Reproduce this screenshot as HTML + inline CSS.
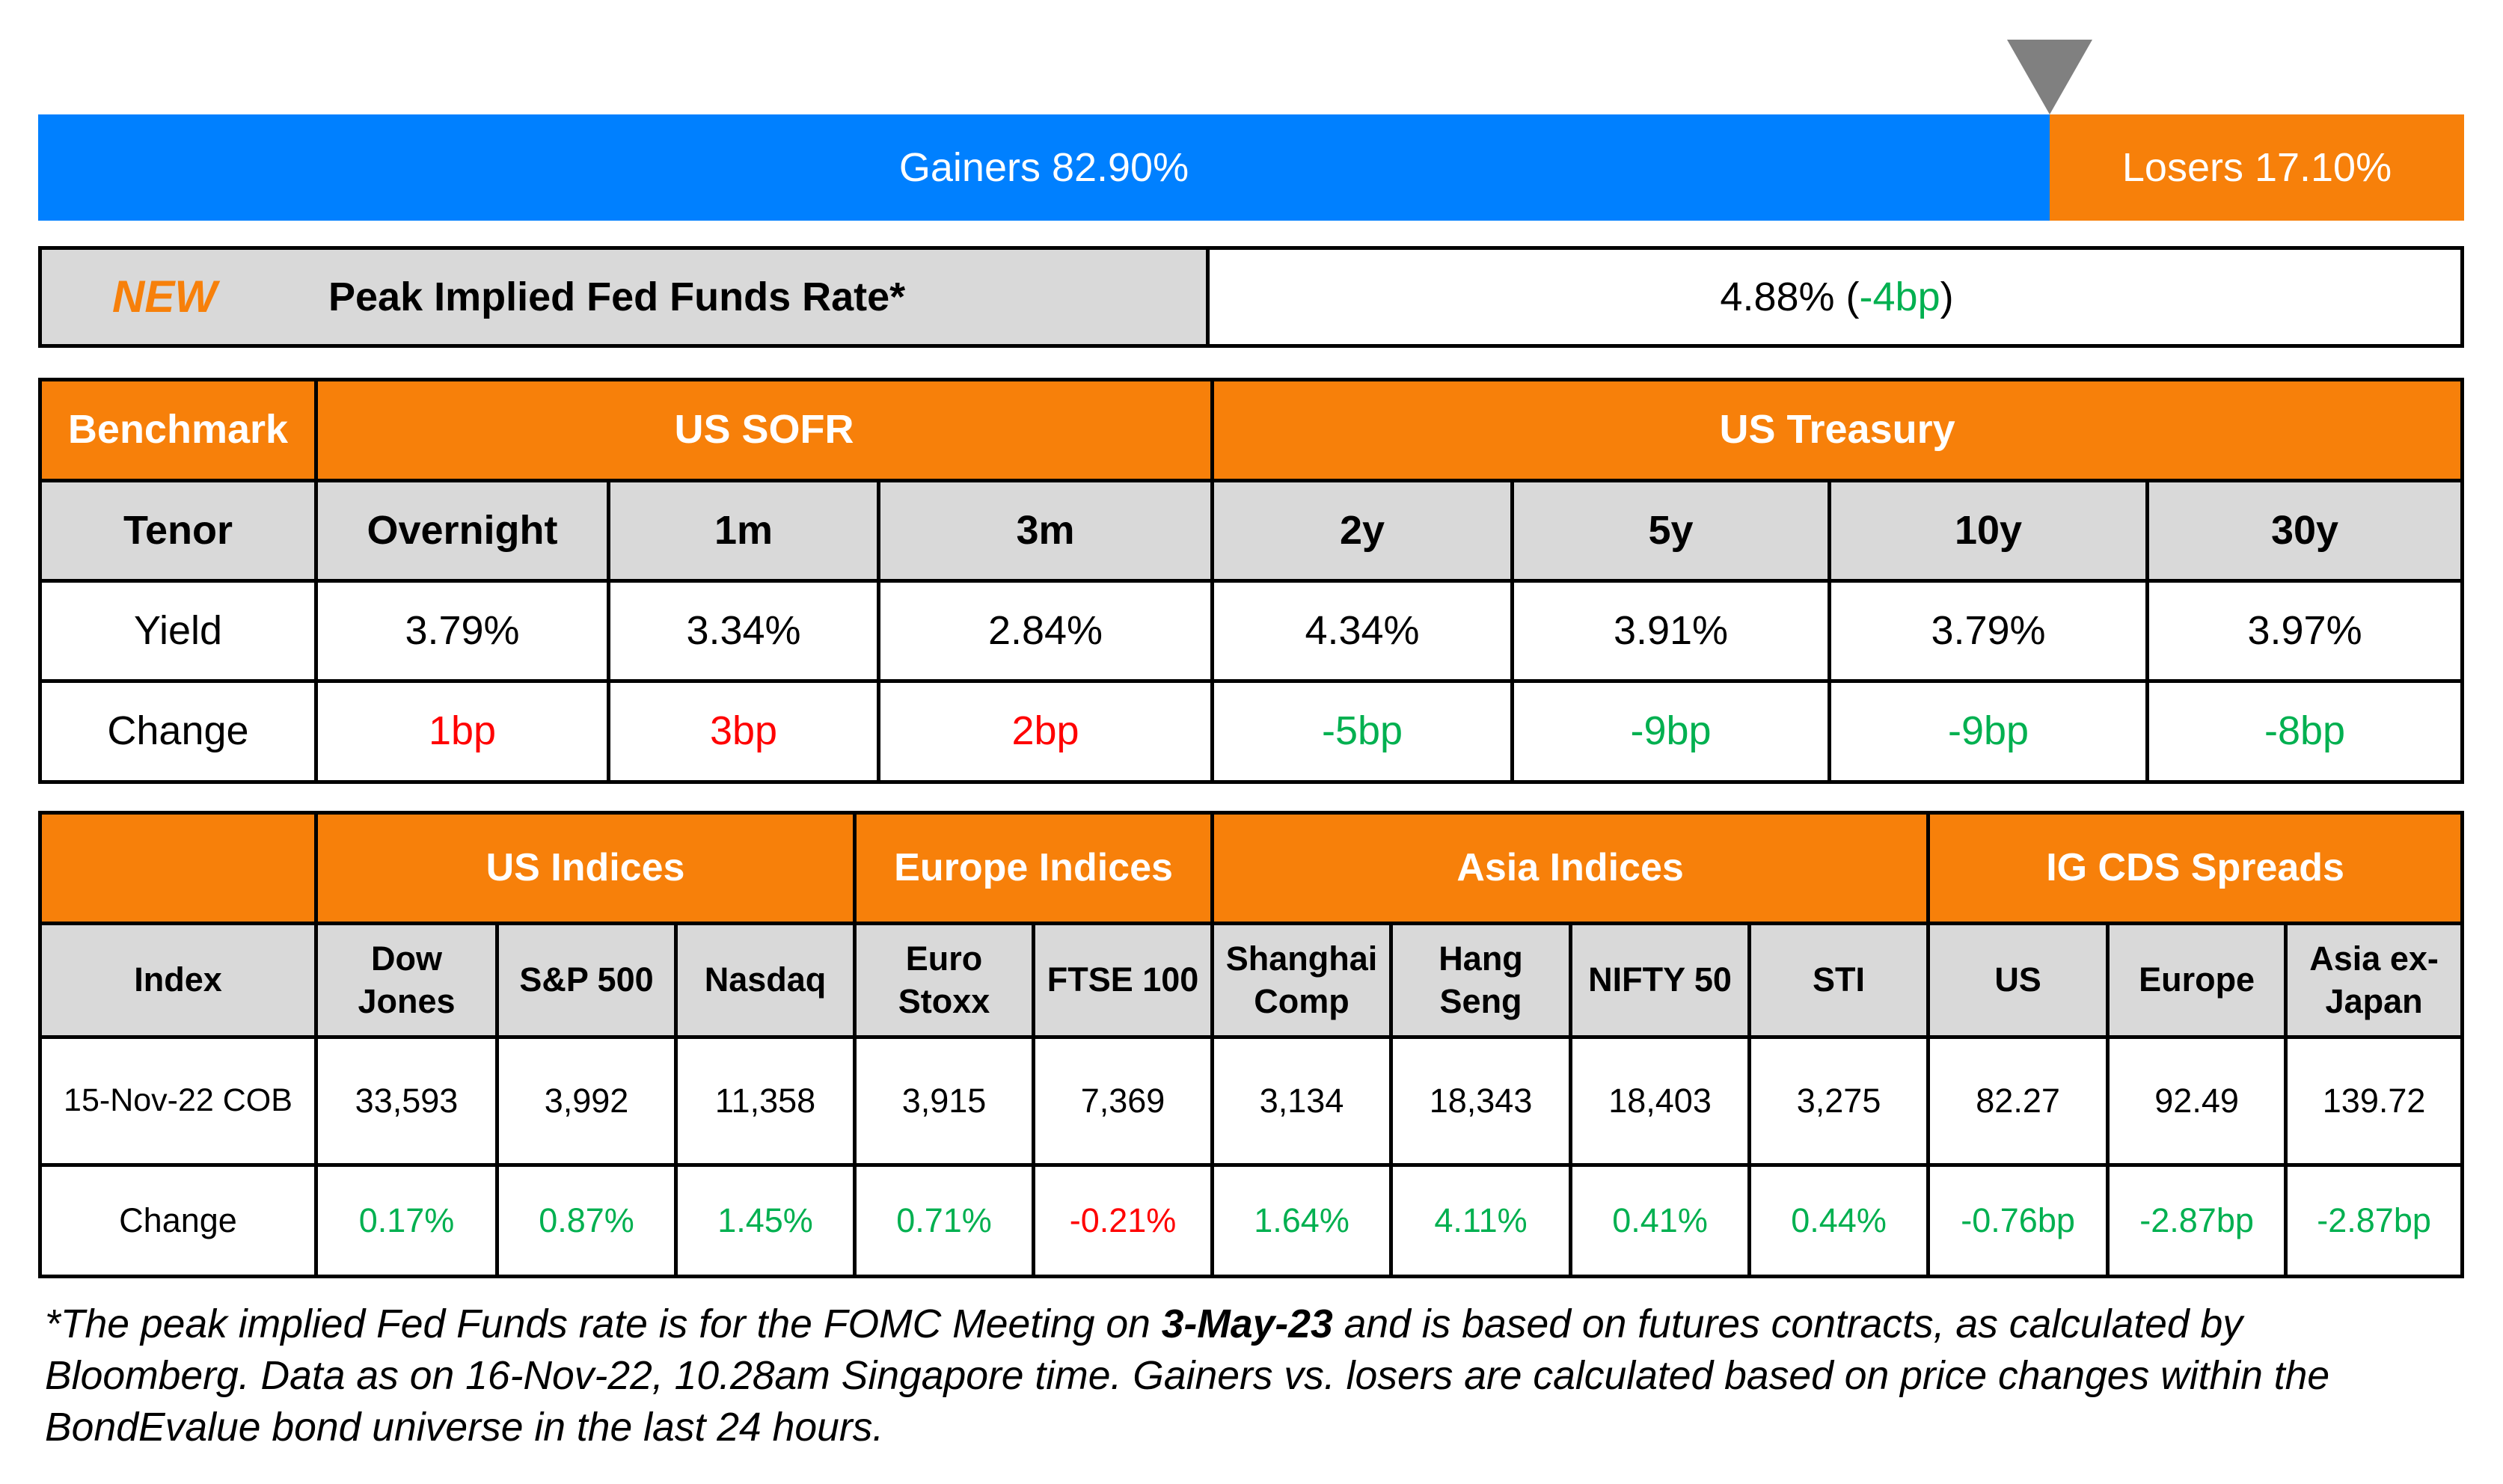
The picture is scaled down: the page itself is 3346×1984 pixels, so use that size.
<!DOCTYPE html>
<html><head><meta charset="utf-8"><style>
*{margin:0;padding:0;box-sizing:border-box}
body{width:3346px;height:1984px;background:#fff;position:relative;overflow:hidden;font-family:"Liberation Sans",sans-serif;color:#000}
.abs{position:absolute}
table{position:absolute;border-collapse:collapse;table-layout:fixed}
td{border:5px solid #000;text-align:center;vertical-align:middle;line-height:1.25}
.or{background:#F7800A;color:#fff;font-weight:bold}
.gr{background:#D9D9D9;font-weight:bold}
.g{color:#00B050}.r{color:#FF0000}
#t1 td{font-size:54px}
#t2 td{font-size:45px}
#t2 tr.h td{font-size:52px}
</style></head><body>
<div class="abs" style="left:51px;top:153px;width:2689px;height:142px;background:#0080FF;color:#fff;font-size:54px;line-height:142px;text-align:center">Gainers 82.90%</div>
<div class="abs" style="left:2740px;top:153px;width:554px;height:142px;background:#F7800A;color:#fff;font-size:54px;line-height:142px;text-align:center">Losers 17.10%</div>
<svg class="abs" style="left:2680px;top:50px" width="120" height="110"><polygon points="3,3 117,3 60,103" fill="#808080"/></svg>

<div class="abs" style="left:51px;top:329px;width:3243px;height:136px;border:5px solid #000;background:#fff"></div>
<div class="abs" style="left:56px;top:334px;width:1561px;height:126px;background:#D9D9D9;border-right:5px solid #000"></div>
<div class="abs" style="left:150px;top:334px;height:126px;line-height:126px;font-size:60px;font-weight:bold;font-style:italic;color:#F7800A">NEW</div>
<div class="abs" style="left:439px;top:334px;height:126px;line-height:126px;font-size:54px;font-weight:bold">Peak Implied Fed Funds Rate*</div>
<div class="abs" style="left:1622px;top:334px;width:1667px;height:126px;line-height:126px;font-size:54px;text-align:center">4.88% (<span class="g">-4bp</span>)</div>

<table id="t1" style="left:51px;top:505px;width:3238px">
<colgroup><col style="width:369px"><col style="width:391px"><col style="width:361px"><col style="width:446px"><col style="width:401px"><col style="width:424px"><col style="width:425px"><col style="width:421px"></colgroup>
<tr style="height:135px"><td class="or">Benchmark</td><td class="or" colspan="3">US SOFR</td><td class="or" colspan="4">US Treasury</td></tr>
<tr style="height:134px" class="gr"><td class="gr">Tenor</td><td class="gr">Overnight</td><td class="gr">1m</td><td class="gr">3m</td><td class="gr">2y</td><td class="gr">5y</td><td class="gr">10y</td><td class="gr">30y</td></tr>
<tr style="height:134px"><td>Yield</td><td>3.79%</td><td>3.34%</td><td>2.84%</td><td>4.34%</td><td>3.91%</td><td>3.79%</td><td>3.97%</td></tr>
<tr style="height:135px"><td>Change</td><td class="r">1bp</td><td class="r">3bp</td><td class="r">2bp</td><td class="g">-5bp</td><td class="g">-9bp</td><td class="g">-9bp</td><td class="g">-8bp</td></tr>
</table>

<table id="t2" style="left:51px;top:1084px;width:3238px">
<colgroup><col style="width:369px"><col style="width:242px"><col style="width:239px"><col style="width:239px"><col style="width:239px"><col style="width:239px"><col style="width:239px"><col style="width:240px"><col style="width:239px"><col style="width:239px"><col style="width:240px"><col style="width:238px"><col style="width:236px"></colgroup>
<tr class="h" style="height:148px"><td class="or"></td><td class="or" colspan="3">US Indices</td><td class="or" colspan="2">Europe Indices</td><td class="or" colspan="4">Asia Indices</td><td class="or" colspan="3">IG CDS Spreads</td></tr>
<tr style="height:152px"><td class="gr">Index</td><td class="gr">Dow<br>Jones</td><td class="gr">S&amp;P 500</td><td class="gr">Nasdaq</td><td class="gr">Euro<br>Stoxx</td><td class="gr">FTSE 100</td><td class="gr">Shanghai<br>Comp</td><td class="gr">Hang<br>Seng</td><td class="gr">NIFTY 50</td><td class="gr">STI</td><td class="gr">US</td><td class="gr">Europe</td><td class="gr">Asia ex-<br>Japan</td></tr>
<tr style="height:171px"><td style="white-space:nowrap;font-size:43px">15-Nov-22 COB</td><td>33,593</td><td>3,992</td><td>11,358</td><td>3,915</td><td>7,369</td><td>3,134</td><td>18,343</td><td>18,403</td><td>3,275</td><td>82.27</td><td>92.49</td><td>139.72</td></tr>
<tr style="height:149px"><td>Change</td><td class="g">0.17%</td><td class="g">0.87%</td><td class="g">1.45%</td><td class="g">0.71%</td><td class="r">-0.21%</td><td class="g">1.64%</td><td class="g">4.11%</td><td class="g">0.41%</td><td class="g">0.44%</td><td class="g" style="white-space:nowrap">-0.76bp</td><td class="g" style="white-space:nowrap">-2.87bp</td><td class="g" style="white-space:nowrap">-2.87bp</td></tr>
</table>

<div class="abs" style="left:60px;top:1736px;font-size:53.5px;font-style:italic;line-height:69px;white-space:nowrap">*The peak implied Fed Funds rate is for the FOMC Meeting on <b>3-May-23</b> and is based on futures contracts, as calculated by<br>Bloomberg. Data as on 16-Nov-22, 10.28am Singapore time. Gainers vs. losers are calculated based on price changes within the<br>BondEvalue bond universe in the last 24 hours.</div>
</body></html>
